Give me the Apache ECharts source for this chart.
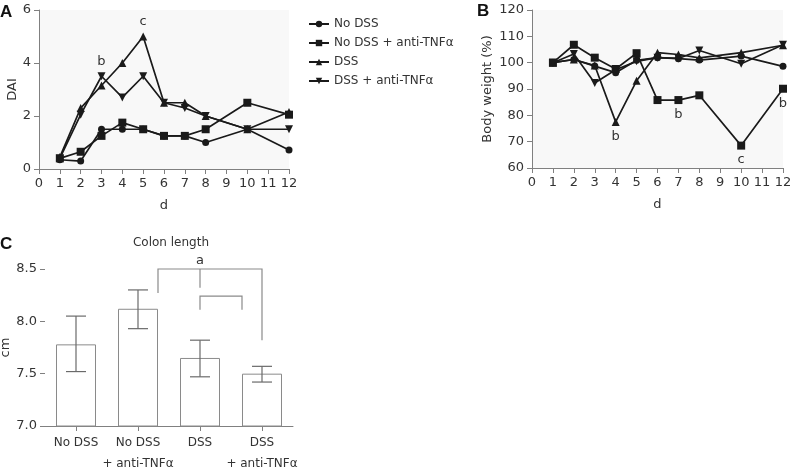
<!DOCTYPE html>
<html><head><meta charset="utf-8">
<script src="https://cdn.jsdelivr.net/npm/echarts@6/dist/echarts.min.js"></script>
<style>html,body{margin:0;padding:0;background:#fff}#c{width:796px;height:470px}</style>
</head><body><div id="c"></div>
<script>
// ---- data ----
const days = [1, 2, 3, 4, 5, 6, 7, 8, 10, 12];
const groupNames = ['No DSS', 'No DSS + anti-TNFα', 'DSS', 'DSS + anti-TNFα'];
const daiNoDSS     = [0.35, 0.3, 1.5, 1.5, 1.5, 1.25, 1.25, 1.0, 1.5, 0.72];
const daiNoDSSAnti = [0.4, 0.65, 1.25, 1.75, 1.5, 1.25, 1.25, 1.5, 2.5, 2.05];
const daiDSS       = [0.45, 2.3, 3.15, 4.0, 5.0, 2.5, 2.5, 2.0, 1.5, 2.15];
const daiDSSAnti   = [0.4, 2.05, 3.5, 2.7, 3.5, 2.5, 2.3, 2.0, 1.5, 1.5];
const bwNoDSS      = [100, 101.2, 98.7, 96.2, 100.9, 101.9, 101.5, 101, 102.5, 98.6];
const bwNoDSSAnti  = [100, 106.8, 101.9, 97.6, 103.6, 85.8, 85.8, 87.6, 68.5, 90.1];
const bwDSS        = [100, 101.2, 98.9, 77.5, 93.1, 103.8, 103.1, 101.8, 103.8, 106.6];
const bwDSSAnti    = [100, 103.3, 92.3, 97.3, 100.5, 101.9, 101.6, 104.6, 99.6, 106.8];
const colonCats  = ['No DSS', 'No DSS\n+ anti-TNFα', 'DSS', 'DSS\n+ anti-TNFα'];
const colonMean  = [7.78, 8.12, 7.65, 7.50];
const colonLow   = [7.52, 7.93, 7.47, 7.42];
const colonHigh  = [8.05, 8.30, 7.82, 7.57];
// significance letters: [series index, day, letter, position]
const daiNotes = [[3, 3, 'b', 'top'], [2, 5, 'c', 'top']];
const bwNotes  = [[2, 4, 'b', 'bottom'], [1, 7, 'b', 'bottom'], [1, 10, 'c', 'bottom'], [1, 12, 'b', 'bottom']];

// ---- styling ----
const FONT = 'DejaVu Sans';
const TXT = '#333';
const AX = '#808080';
const LINE = '#1a1a1a';
const downTri = 'path://M0,0 L10,0 L5,9 Z';
const symbols = ['circle', 'rect', 'triangle', downTri];
const symSizes = [7, 8, 8, 8];

function lineSeries(values, idx, xi, notes) {
  const data = days.map((d, k) => {
    const item = { value: [d, values[k]] };
    notes.forEach(n => {
      if (n[0] === idx && n[1] === d) {
        item.label = { show: true, position: n[3], formatter: n[2], distance: 4,
          color: TXT, fontFamily: FONT, fontSize: 13 };
      }
    });
    return item;
  });
  return {
    type: 'line', name: groupNames[idx], xAxisIndex: xi, yAxisIndex: xi,
    data: data, symbol: symbols[idx], symbolSize: symSizes[idx],
    lineStyle: { color: LINE, width: 1.7 }, itemStyle: { color: LINE },
    label: { show: false }, emphasis: { disabled: true }, animation: false, z: 3 + idx
  };
}

const axisCommon = {
  axisLine: { lineStyle: { color: AX, width: 1 } },
  axisTick: { show: true, inside: false, length: 5, lineStyle: { color: AX } },
  splitLine: { show: false },
  axisLabel: { color: TXT, fontFamily: FONT, fontSize: 13 }
};
const nameStyle = { color: TXT, fontFamily: FONT, fontSize: 13 };
const letterStyle = { fontFamily: 'Liberation Sans', fontWeight: 'bold', fontSize: 17, color: '#111' };

const chart = echarts.init(document.getElementById('c'), null, { renderer: 'canvas' });

const option = {
  animation: false,
  backgroundColor: '#fff',
  title: [
    { text: 'A', left: 0, top: 4, padding: 0, textStyle: letterStyle },
    { text: 'B', left: 477, top: 3, padding: 0, textStyle: letterStyle },
    { text: 'C', left: 0, top: 236, padding: 0, textStyle: letterStyle },
    { text: 'Colon length', left: 171, top: 237, padding: 0, textAlign: 'center', textStyle: { fontFamily: FONT, fontWeight: 'normal', fontSize: 12, color: TXT } }
  ],
  legend: {
    data: groupNames, orient: 'vertical', left: 303, top: 13, itemGap: 7,
    itemWidth: 20, itemHeight: 8,
    textStyle: { color: TXT, fontFamily: FONT, fontSize: 12 }
  },
  grid: [
    { left: 39, right: 507, top: 10, bottom: 301, show: true, backgroundColor: '#f8f8f8', borderWidth: 0, outerBoundsMode: 'none', containLabel: false },
    { left: 532, right: 13, top: 10, bottom: 302, show: true, backgroundColor: '#f8f8f8', borderWidth: 0, outerBoundsMode: 'none', containLabel: false },
    { left: 45, right: 503, top: 269, bottom: 44, outerBoundsMode: 'none', containLabel: false }
  ],
  xAxis: [
    Object.assign({}, axisCommon, { type: 'value', gridIndex: 0, min: 0, max: 12, interval: 1,
      name: 'd', nameLocation: 'middle', nameGap: 30, nameTextStyle: nameStyle }),
    Object.assign({}, axisCommon, { type: 'value', gridIndex: 1, min: 0, max: 12, interval: 1,
      name: 'd', nameLocation: 'middle', nameGap: 30, nameTextStyle: nameStyle }),
    Object.assign({}, axisCommon, { type: 'category', gridIndex: 2, data: colonCats,
      axisTick: { show: true, alignWithLabel: true, length: 5, lineStyle: { color: AX } },
      axisLabel: { color: TXT, fontFamily: FONT, fontSize: 12, lineHeight: 21, interval: 0, margin: 6 } })
  ],
  yAxis: [
    Object.assign({}, axisCommon, { type: 'value', gridIndex: 0, min: 0, max: 6, interval: 2,
      name: 'DAI', nameLocation: 'middle', nameGap: 19, nameTextStyle: nameStyle }),
    Object.assign({}, axisCommon, { type: 'value', gridIndex: 1, min: 60, max: 120, interval: 10,
      name: 'Body weight (%)', nameLocation: 'middle', nameGap: 38, nameTextStyle: nameStyle }),
    Object.assign({}, axisCommon, { type: 'value', gridIndex: 2, min: 7.0, max: 8.5, interval: 0.5,
      axisLabel: { color: TXT, fontFamily: FONT, fontSize: 13, formatter: v => v.toFixed(1) },
      name: 'cm', nameLocation: 'middle', nameGap: 28, nameTextStyle: nameStyle })
  ],
  series: [
    lineSeries(daiNoDSS, 0, 0, daiNotes),
    lineSeries(daiNoDSSAnti, 1, 0, daiNotes),
    lineSeries(daiDSS, 2, 0, daiNotes),
    lineSeries(daiDSSAnti, 3, 0, daiNotes),
    lineSeries(bwNoDSS, 0, 1, bwNotes),
    lineSeries(bwNoDSSAnti, 1, 1, bwNotes),
    lineSeries(bwDSS, 2, 1, bwNotes),
    lineSeries(bwDSSAnti, 3, 1, bwNotes),
    {
      type: 'bar', xAxisIndex: 2, yAxisIndex: 2, data: colonMean, barWidth: 40,
      itemStyle: { color: '#fff', borderColor: '#8a8a8a', borderWidth: 1 },
      emphasis: { disabled: true }, z: 2
    },
    {
      type: 'custom', xAxisIndex: 2, yAxisIndex: 2,
      data: colonMean.map((m, i) => [i, colonLow[i], colonHigh[i]]),
      renderItem: function (params, api) {
        const lo = api.coord([api.value(0), api.value(1)]);
        const hi = api.coord([api.value(0), api.value(2)]);
        const hw = 10;
        const st = { stroke: '#6a6a6a', lineWidth: 1.2 };
        return { type: 'group', children: [
          { type: 'line', shape: { x1: lo[0], y1: lo[1], x2: hi[0], y2: hi[1] }, style: st },
          { type: 'line', shape: { x1: lo[0] - hw, y1: lo[1], x2: lo[0] + hw, y2: lo[1] }, style: st },
          { type: 'line', shape: { x1: hi[0] - hw, y1: hi[1], x2: hi[0] + hw, y2: hi[1] }, style: st }
        ] };
      },
      z: 4
    },
    {
      type: 'custom', xAxisIndex: 2, yAxisIndex: 2, data: [[0]], clip: false,
      renderItem: function (params, api) {
        const c1 = api.coord([1, 8.5]);
        const c2 = api.coord([2, 8.5]);
        const c3 = api.coord([3, 8.5]);
        const y = v => api.coord([0, v])[1];
        const st = { stroke: '#8a8a8a', lineWidth: 1.2, fill: null };
        const xL = c1[0] + 20, xM = c2[0], xR = c3[0], xS = c3[0] - 20;
        return { type: 'group', children: [
          { type: 'polyline', shape: { points: [[xL, y(8.27)], [xL, y(8.5)], [xR, y(8.5)], [xR, y(7.82)]] }, style: st },
          { type: 'line', shape: { x1: xM, y1: y(8.5), x2: xM, y2: y(8.32) }, style: st },
          { type: 'polyline', shape: { points: [[xM, y(8.11)], [xM, y(8.24)], [xS, y(8.24)], [xS, y(8.11)]] }, style: st },
          { type: 'text', style: { text: 'a', x: xM, y: y(8.5) - 2, align: 'center', verticalAlign: 'bottom',
            fill: TXT, font: '13px "DejaVu Sans"' } }
        ] };
      },
      z: 5
    }
  ]
};
chart.setOption(option);
</script>
</body></html>
